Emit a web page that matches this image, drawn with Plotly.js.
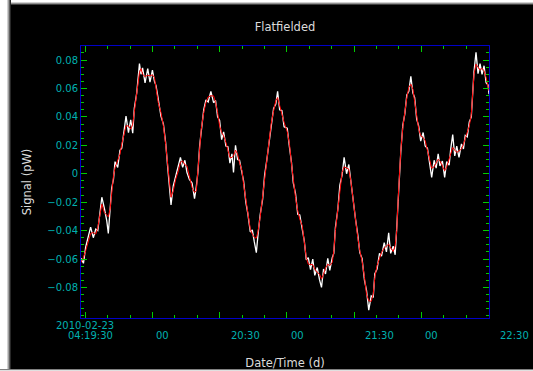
<!DOCTYPE html>
<html>
<head>
<meta charset="utf-8">
<script src="https://cdn.plot.ly/plotly-3.0.1.min.js"></script>
<style>html,body{margin:0;padding:0;background:#fff;}#chart{width:533px;height:371px;}</style>
</head>
<body>
<div id="chart"></div>
<script>
// time since start of scan (minutes)
const timeMin = [0.0,1.1,2.1,3.3,4.3,5.5,6.6,7.5,8.2,9.3,10.4,11.5,12.2,13.0,13.7,14.5,15.2,16.4,17.4,18.2,19.2,20.1,21.2,22.2,23.1,23.8,24.9,26.1,26.8,27.5,28.6,29.8,30.8,31.9,32.8,33.5,34.5,35.7,36.8,37.8,38.7,39.4,40.2,41.2,42.3,43.5,
44.4,45.4,46.4,47.3,48.4,49.6,50.7,51.5,52.2,53.0,53.7,54.8,55.8,56.8,58.0,59.2,60.1,61.0,61.9,62.8,63.7,64.7,65.6,66.5,67.4,68.1,69.0,69.9,70.8,71.9,72.6,73.6,74.5,75.6,76.5,77.4,78.3,79.1,80.0,81.1,82.0,83.0,84.1,84.9,86.0,87.0,87.8,88.7,89.7,90.7,
92.1,93.1,94.0,94.8,95.8,96.8,97.7,98.8,99.7,100.6,101.5,102.5,103.5,104.4,105.5,106.5,107.4,108.3,109.2,110.2,111.1,112.2,112.9,113.6,114.7,115.6,116.6,117.5,118.6,119.6,120.5,121.5,122.6,123.6,124.5,125.5,126.6,127.5,128.5,129.6,130.5,131.2,132.2,133.3,134.2,
135.4,136.4,137.4,138.3,139.4,140.3,141.0,141.6,142.1,142.8,143.7,144.6,145.5,146.4,147.3,148.2,149.0,149.9,150.8,151.7,152.8,153.7,154.7,155.7,156.6,157.7,158.6,159.5,160.3,161.4,162.4,163.3,164.4,165.1,166.0,166.9,167.8,168.8,169.9,170.8,171.6,172.5,173.4,174.3,174.9,175.5,176.4,177.3,178.2,179.1,180.0,180.9,181.8,182.2];

// raw flatfielded signal (pW) - white
const rawSignal = [-0.0595,-0.0630,-0.0515,-0.0440,-0.0375,-0.0450,-0.0390,-0.0400,-0.0290,-0.0165,-0.0240,-0.0330,-0.0420,-0.0260,-0.0100,-0.0040,0.0085,0.0045,0.0165,0.0180,0.0320,0.0405,0.0290,0.0380,0.0285,0.0460,0.0570,0.0775,0.0700,0.0745,0.0640,0.0740,0.0645,0.0730,0.0650,0.0620,0.0525,0.0405,0.0350,0.0220,0.0050,-0.0080,-0.0220,-0.0085,-0.0010,0.0050,
0.0115,0.0045,0.0095,0.0010,-0.0040,-0.0065,-0.0175,-0.0090,0.0010,0.0200,0.0300,0.0450,0.0520,0.0505,0.0580,0.0500,0.0515,0.0400,0.0375,0.0240,0.0295,0.0195,0.0190,0.0075,0.0140,0.0010,0.0200,0.0100,0.0095,-0.0010,-0.0050,-0.0200,-0.0280,-0.0410,-0.0395,-0.0480,-0.0555,-0.0420,-0.0290,-0.0180,-0.0010,0.0100,0.0245,0.0330,0.0460,0.0490,0.0580,0.0450,0.0445,0.0330,
0.0320,0.0185,0.0080,-0.0065,-0.0140,-0.0285,-0.0290,-0.0390,-0.0470,-0.0605,-0.0590,-0.0675,-0.0600,-0.0715,-0.0660,-0.0745,-0.0800,-0.0670,-0.0705,-0.0595,-0.0680,-0.0590,-0.0560,-0.0380,-0.0250,-0.0080,-0.0010,0.0115,0.0000,0.0065,-0.0060,-0.0175,-0.0320,-0.0430,-0.0555,-0.0595,-0.0750,-0.0820,-0.0960,-0.0860,-0.0870,-0.0705,-0.0670,-0.0560,-0.0580,
-0.0485,-0.0550,-0.0415,-0.0560,-0.0510,-0.0570,-0.0380,-0.0200,-0.0010,0.0150,0.0340,0.0420,0.0555,0.0580,0.0685,0.0570,0.0535,0.0385,0.0335,0.0230,0.0290,0.0195,0.0180,0.0080,-0.0025,0.0095,0.0040,0.0140,0.0055,0.0090,-0.0025,0.0085,0.0060,0.0175,0.0275,0.0125,0.0195,0.0115,0.0210,0.0175,0.0270,0.0260,0.0365,0.0400,0.0570,0.0720,0.0855,0.0705,0.0775,0.0700,0.0760,0.0640,0.0625,0.0560];

// smoothed signal (pW) - red
const smoothSignal = [-0.0624,-0.0589,-0.0542,-0.0472,-0.0420,-0.0413,-0.0425,-0.0378,-0.0319,-0.0214,-0.0272,-0.0296,-0.0303,-0.0249,-0.0120,-0.0015,0.0044,0.0091,0.0138,0.0208,0.0290,0.0337,0.0337,0.0314,0.0349,0.0443,0.0583,0.0712,0.0740,0.0700,0.0684,0.0693,0.0689,0.0696,0.0677,0.0607,0.0501,0.0431,0.0337,0.0208,0.0068,-0.0050,-0.0165,-0.0120,-0.0038,0.0021,
0.0079,0.0091,0.0063,0.0056,-0.0026,-0.0097,-0.0132,-0.0120,0.0021,0.0185,0.0314,0.0431,0.0501,0.0541,0.0548,0.0548,0.0501,0.0431,0.0337,0.0290,0.0267,0.0220,0.0173,0.0114,0.0114,0.0126,0.0166,0.0138,0.0079,0.0021,-0.0073,-0.0190,-0.0296,-0.0390,-0.0425,-0.0448,-0.0453,-0.0401,-0.0308,-0.0167,-0.0026,0.0114,0.0232,0.0349,0.0443,0.0513,0.0536,0.0478,0.0419,0.0361,
0.0297,0.0208,0.0068,-0.0050,-0.0167,-0.0261,-0.0319,-0.0366,-0.0495,-0.0589,-0.0636,-0.0636,-0.0640,-0.0671,-0.0694,-0.0706,-0.0741,-0.0706,-0.0664,-0.0636,-0.0647,-0.0624,-0.0542,-0.0401,-0.0237,-0.0097,0.0009,0.0049,0.0039,0.0032,-0.0050,-0.0190,-0.0308,-0.0448,-0.0542,-0.0612,-0.0729,-0.0847,-0.0894,-0.0898,-0.0847,-0.0729,-0.0647,-0.0589,-0.0554,
-0.0523,-0.0507,-0.0495,-0.0523,-0.0547,-0.0507,-0.0401,-0.0190,-0.0026,0.0161,0.0325,0.0443,0.0536,0.0607,0.0630,0.0595,0.0513,0.0407,0.0314,0.0267,0.0255,0.0232,0.0161,0.0114,0.0039,0.0049,0.0079,0.0103,0.0091,0.0056,0.0021,0.0049,0.0103,0.0138,0.0185,0.0166,0.0150,0.0161,0.0173,0.0208,0.0243,0.0290,0.0337,0.0419,0.0560,0.0700,0.0771,0.0747,0.0729,0.0743,0.0724,0.0677,0.0607,0.0583];

// y tick labels
const yTickVals = [-0.08, -0.06, -0.04, -0.02, 0, 0.02, 0.04, 0.06, 0.08];
const yTickText = ['\u22120.08', '\u22120.06', '\u22120.04', '\u22120.02', '0', '0.02', '0.04', '0.06', '0.08'];

// x axis labels (as printed under the axis) and their positions (minutes)
const dateLabel = '2010-02-23';
const dateLabelPos = 2.0;
const timeLabels = ['04:19:30','00','20:30','00','21:30','00','22:30'];
const timeLabelPos = [4.3, 36.6, 73.4, 96.7, 133.5, 156.7, 193.4];

const xRange = [0, 182.2];
const yRange = [-0.1015, 0.0899];

const W = 533, H = 371, ML = 81, MR = 44, MT = 46, MB = 53;
const PW = W - ML - MR, PH = H - MT - MB;
const px = x => (x - ML) / PW;
const py = y => (H - MB - y) / PH;

const cyan = '#00b0b0', green = '#00cc00', blue = '#0000c8', grey = '#dcdcdc';
const font = 'DejaVu Sans, sans-serif';

const traces = [
  {x: timeMin, y: rawSignal, type: 'scatter', mode: 'lines',
   line: {color: '#ffffff', width: 1.3}, hoverinfo: 'skip', showlegend: false},
  {x: timeMin, y: smoothSignal, type: 'scatter', mode: 'lines',
   line: {color: '#ff0000', width: 1}, hoverinfo: 'skip', showlegend: false}
];

const annotations = [];
annotations.push({xref: 'paper', yref: 'paper', x: dateLabelPos / xRange[1], y: py(325),
  text: dateLabel, showarrow: false, xanchor: 'center', yanchor: 'middle',
  font: {family: font, size: 10, color: cyan}});
timeLabels.forEach((t, i) => annotations.push({xref: 'paper', yref: 'paper',
  x: timeLabelPos[i] / xRange[1], y: py(335.5), text: t, showarrow: false,
  xanchor: 'center', yanchor: 'middle', font: {family: font, size: 10, color: cyan}}));

// drop-shadow frame around the black panel
const strip = (x0, y0, x1, y1, c) => ({type: 'rect', xref: 'paper', yref: 'paper',
  x0: px(x0), x1: px(x1), y0: py(y0), y1: py(y1), fillcolor: c, line: {width: 0}, layer: 'above'});
const shapes = [
  strip(0, 0, W, 2, '#ffffff'), strip(0, 2, W, 3, '#d0d0d0'), strip(0, 3, W, 4, '#909090'), strip(0, 4, W, 5, '#404040'),
  strip(0, 0, 7, H, '#ffffff'), strip(7, 0, 8, H, '#d0d0d0'), strip(8, 0, 9, H, '#a0a0a0'), strip(9, 0, 10, H, '#606060'), strip(10, 0, 11, H, '#282828'),
  strip(0, 369, W, 370, '#808080'), strip(0, 370, W, H, '#e0e0e0')
];

const layout = {
  width: W, height: H,
  margin: {l: ML, r: MR, t: MT, b: MB, pad: 0},
  paper_bgcolor: '#000000', plot_bgcolor: '#000000',
  showlegend: false,
  title: {text: 'Flatfielded', font: {family: font, size: 11.5, color: grey},
    x: 0.5, xref: 'paper', xanchor: 'center', y: 1 - 27 / H, yref: 'container', yanchor: 'middle'},
  xaxis: {
    range: xRange, showgrid: false, zeroline: false,
    showline: true, linecolor: blue, linewidth: 1, mirror: 'allticks',
    ticks: 'inside', ticklen: 6, tickwidth: 1, tickcolor: green,
    tickmode: 'linear', tick0: 1.96, dtick: 30, showticklabels: false,
    minor: {ticks: 'inside', ticklen: 3, tickwidth: 1, tickcolor: green, tick0: 1.96, dtick: 10, showgrid: false},
    title: {text: 'Date/Time (d)', font: {family: font, size: 11.5, color: grey}, standoff: 40}
  },
  yaxis: {
    range: yRange, showgrid: false, zeroline: false,
    showline: true, linecolor: blue, linewidth: 1, mirror: 'allticks',
    ticks: 'inside', ticklen: 6, tickwidth: 1, tickcolor: green,
    tickmode: 'array', tickvals: yTickVals, ticktext: yTickText,
    tickfont: {family: font, size: 10, color: cyan},
    minor: {ticks: 'inside', ticklen: 3, tickwidth: 1, tickcolor: green, tick0: 0, dtick: 0.005, showgrid: false},
    title: {text: 'Signal (pW)', font: {family: font, size: 11.5, color: grey}, standoff: 13}
  },
  annotations: annotations,
  shapes: shapes
};

Plotly.newPlot('chart', traces, layout, {staticPlot: true, displayModeBar: false});
</script>
</body>
</html>
